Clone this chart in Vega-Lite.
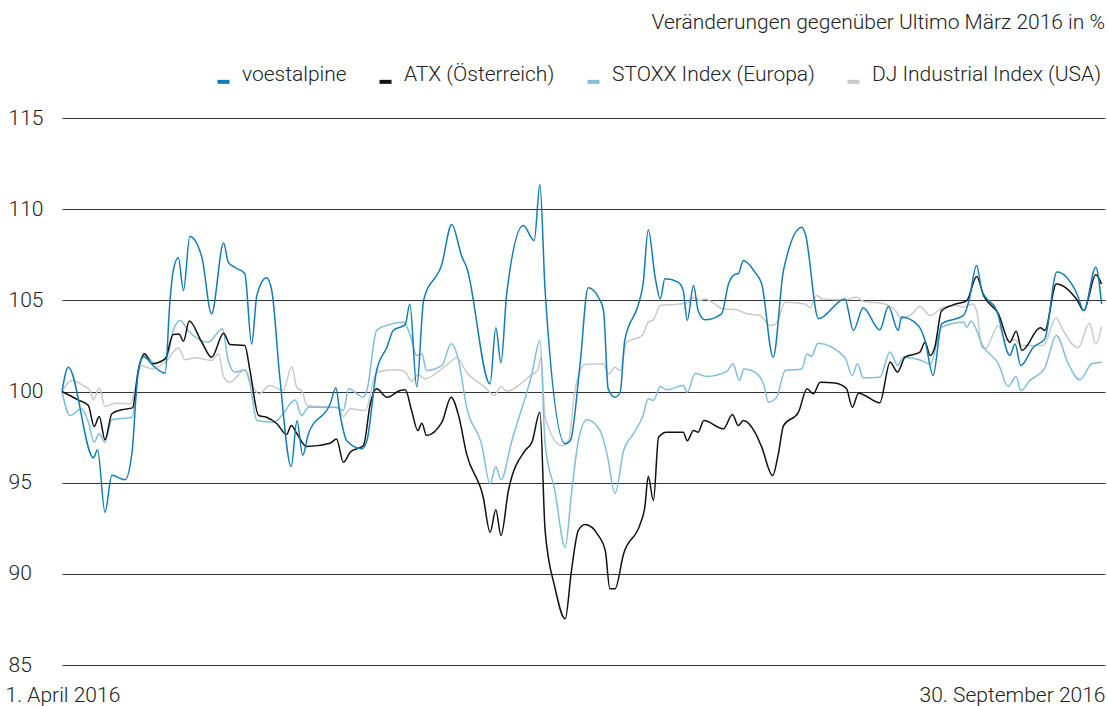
{
  "$schema": "https://vega.github.io/schema/vega-lite/v6.json",
  "width": 1043,
  "height": 547,
  "autosize": {"type": "none"},
  "padding": {"left": 62, "top": 118, "right": 3, "bottom": 41},
  "background": "white",
  "title": {"text": "Veränderungen gegenüber Ultimo März 2016 in %", "anchor": "end", "frame": "group", "offset": 31, "fontSize": 21, "font": "Roboto", "fontWeight": 300, "color": "#222"},
  "config": {"view": {"stroke": null}, "font": "Roboto"},
  "datasets": {
    "kurse": [
      {"reihe": "DJ Industrial Index (USA)", "tag": 0, "wert": 100.0},
      {"reihe": "DJ Industrial Index (USA)", "tag": 1.7, "wert": 100.6},
      {"reihe": "DJ Industrial Index (USA)", "tag": 4.0, "wert": 100.27},
      {"reihe": "DJ Industrial Index (USA)", "tag": 4.9, "wert": 100.05},
      {"reihe": "DJ Industrial Index (USA)", "tag": 5.5, "wert": 99.54},
      {"reihe": "DJ Industrial Index (USA)", "tag": 6.5, "wert": 100.2},
      {"reihe": "DJ Industrial Index (USA)", "tag": 7.5, "wert": 99.18},
      {"reihe": "DJ Industrial Index (USA)", "tag": 9.3, "wert": 99.36},
      {"reihe": "DJ Industrial Index (USA)", "tag": 11.9, "wert": 99.33},
      {"reihe": "DJ Industrial Index (USA)", "tag": 12.7, "wert": 100.05},
      {"reihe": "DJ Industrial Index (USA)", "tag": 13.8, "wert": 101.43},
      {"reihe": "DJ Industrial Index (USA)", "tag": 15.7, "wert": 101.24},
      {"reihe": "DJ Industrial Index (USA)", "tag": 18.3, "wert": 101.7},
      {"reihe": "DJ Industrial Index (USA)", "tag": 20.3, "wert": 102.4},
      {"reihe": "DJ Industrial Index (USA)", "tag": 21.5, "wert": 101.74},
      {"reihe": "DJ Industrial Index (USA)", "tag": 23.2, "wert": 101.85},
      {"reihe": "DJ Industrial Index (USA)", "tag": 26.1, "wert": 101.7},
      {"reihe": "DJ Industrial Index (USA)", "tag": 27.3, "wert": 102.07},
      {"reihe": "DJ Industrial Index (USA)", "tag": 28.2, "wert": 100.82},
      {"reihe": "DJ Industrial Index (USA)", "tag": 29.3, "wert": 100.51},
      {"reihe": "DJ Industrial Index (USA)", "tag": 31.9, "wert": 101.19},
      {"reihe": "DJ Industrial Index (USA)", "tag": 33.1, "wert": 100.42},
      {"reihe": "DJ Industrial Index (USA)", "tag": 34.3, "wert": 99.87},
      {"reihe": "DJ Industrial Index (USA)", "tag": 36.3, "wert": 100.33},
      {"reihe": "DJ Industrial Index (USA)", "tag": 38.6, "wert": 100.05},
      {"reihe": "DJ Industrial Index (USA)", "tag": 40.1, "wert": 101.37},
      {"reihe": "DJ Industrial Index (USA)", "tag": 41.0, "wert": 100.2},
      {"reihe": "DJ Industrial Index (USA)", "tag": 41.8, "wert": 100.05},
      {"reihe": "DJ Industrial Index (USA)", "tag": 42.8, "wert": 99.23},
      {"reihe": "DJ Industrial Index (USA)", "tag": 48.2, "wert": 99.1},
      {"reihe": "DJ Industrial Index (USA)", "tag": 49.1, "wert": 98.63},
      {"reihe": "DJ Industrial Index (USA)", "tag": 50.3, "wert": 99.05},
      {"reihe": "DJ Industrial Index (USA)", "tag": 52.9, "wert": 98.96},
      {"reihe": "DJ Industrial Index (USA)", "tag": 54.9, "wert": 101.06},
      {"reihe": "DJ Industrial Index (USA)", "tag": 58.4, "wert": 101.19},
      {"reihe": "DJ Industrial Index (USA)", "tag": 59.9, "wert": 101.06},
      {"reihe": "DJ Industrial Index (USA)", "tag": 61.0, "wert": 100.56},
      {"reihe": "DJ Industrial Index (USA)", "tag": 62.2, "wert": 100.93},
      {"reihe": "DJ Industrial Index (USA)", "tag": 63.3, "wert": 100.7},
      {"reihe": "DJ Industrial Index (USA)", "tag": 67.4, "wert": 101.52},
      {"reihe": "DJ Industrial Index (USA)", "tag": 68.9, "wert": 101.85},
      {"reihe": "DJ Industrial Index (USA)", "tag": 70.6, "wert": 101.06},
      {"reihe": "DJ Industrial Index (USA)", "tag": 73.8, "wert": 100.24},
      {"reihe": "DJ Industrial Index (USA)", "tag": 75.4, "wert": 99.78},
      {"reihe": "DJ Industrial Index (USA)", "tag": 76.6, "wert": 100.27},
      {"reihe": "DJ Industrial Index (USA)", "tag": 77.6, "wert": 100.02},
      {"reihe": "DJ Industrial Index (USA)", "tag": 82.0, "wert": 100.93},
      {"reihe": "DJ Industrial Index (USA)", "tag": 83.0, "wert": 101.15},
      {"reihe": "DJ Industrial Index (USA)", "tag": 83.6, "wert": 101.88},
      {"reihe": "DJ Industrial Index (USA)", "tag": 84.3, "wert": 98.59},
      {"reihe": "DJ Industrial Index (USA)", "tag": 87.2, "wert": 97.04},
      {"reihe": "DJ Industrial Index (USA)", "tag": 88.4, "wert": 97.3},
      {"reihe": "DJ Industrial Index (USA)", "tag": 89.5, "wert": 100.05},
      {"reihe": "DJ Industrial Index (USA)", "tag": 91.3, "wert": 101.48},
      {"reihe": "DJ Industrial Index (USA)", "tag": 94.5, "wert": 101.52},
      {"reihe": "DJ Industrial Index (USA)", "tag": 95.3, "wert": 100.93},
      {"reihe": "DJ Industrial Index (USA)", "tag": 96.5, "wert": 101.33},
      {"reihe": "DJ Industrial Index (USA)", "tag": 97.4, "wert": 101.15},
      {"reihe": "DJ Industrial Index (USA)", "tag": 98.5, "wert": 102.7},
      {"reihe": "DJ Industrial Index (USA)", "tag": 101.2, "wert": 103.07},
      {"reihe": "DJ Industrial Index (USA)", "tag": 102.3, "wert": 103.8},
      {"reihe": "DJ Industrial Index (USA)", "tag": 103.2, "wert": 103.93},
      {"reihe": "DJ Industrial Index (USA)", "tag": 104.4, "wert": 104.72},
      {"reihe": "DJ Industrial Index (USA)", "tag": 107.8, "wert": 104.8},
      {"reihe": "DJ Industrial Index (USA)", "tag": 109.6, "wert": 104.9},
      {"reihe": "DJ Industrial Index (USA)", "tag": 110.2, "wert": 105.17},
      {"reihe": "DJ Industrial Index (USA)", "tag": 111.3, "wert": 104.99},
      {"reihe": "DJ Industrial Index (USA)", "tag": 112.2, "wert": 105.08},
      {"reihe": "DJ Industrial Index (USA)", "tag": 115.4, "wert": 104.53},
      {"reihe": "DJ Industrial Index (USA)", "tag": 117.7, "wert": 104.48},
      {"reihe": "DJ Industrial Index (USA)", "tag": 119.5, "wert": 104.26},
      {"reihe": "DJ Industrial Index (USA)", "tag": 121.8, "wert": 104.17},
      {"reihe": "DJ Industrial Index (USA)", "tag": 122.4, "wert": 103.99},
      {"reihe": "DJ Industrial Index (USA)", "tag": 123.6, "wert": 103.62},
      {"reihe": "DJ Industrial Index (USA)", "tag": 124.7, "wert": 103.75},
      {"reihe": "DJ Industrial Index (USA)", "tag": 126.2, "wert": 104.9},
      {"reihe": "DJ Industrial Index (USA)", "tag": 129.7, "wert": 104.8},
      {"reihe": "DJ Industrial Index (USA)", "tag": 130.5, "wert": 104.59},
      {"reihe": "DJ Industrial Index (USA)", "tag": 131.7, "wert": 105.27},
      {"reihe": "DJ Industrial Index (USA)", "tag": 132.6, "wert": 105.08},
      {"reihe": "DJ Industrial Index (USA)", "tag": 136.6, "wert": 105.03},
      {"reihe": "DJ Industrial Index (USA)", "tag": 138.7, "wert": 105.17},
      {"reihe": "DJ Industrial Index (USA)", "tag": 139.8, "wert": 104.95},
      {"reihe": "DJ Industrial Index (USA)", "tag": 143.6, "wert": 104.8},
      {"reihe": "DJ Industrial Index (USA)", "tag": 145.4, "wert": 104.44},
      {"reihe": "DJ Industrial Index (USA)", "tag": 146.5, "wert": 103.99},
      {"reihe": "DJ Industrial Index (USA)", "tag": 148.3, "wert": 104.26},
      {"reihe": "DJ Industrial Index (USA)", "tag": 149.7, "wert": 104.66},
      {"reihe": "DJ Industrial Index (USA)", "tag": 151.5, "wert": 104.17},
      {"reihe": "DJ Industrial Index (USA)", "tag": 153.8, "wert": 104.62},
      {"reihe": "DJ Industrial Index (USA)", "tag": 156.1, "wert": 104.72},
      {"reihe": "DJ Industrial Index (USA)", "tag": 157.3, "wert": 104.62},
      {"reihe": "DJ Industrial Index (USA)", "tag": 158.8, "wert": 104.8},
      {"reihe": "DJ Industrial Index (USA)", "tag": 159.6, "wert": 104.44},
      {"reihe": "DJ Industrial Index (USA)", "tag": 160.5, "wert": 102.43},
      {"reihe": "DJ Industrial Index (USA)", "tag": 161.1, "wert": 102.34},
      {"reihe": "DJ Industrial Index (USA)", "tag": 163.4, "wert": 103.62},
      {"reihe": "DJ Industrial Index (USA)", "tag": 164.6, "wert": 102.8},
      {"reihe": "DJ Industrial Index (USA)", "tag": 166.3, "wert": 102.84},
      {"reihe": "DJ Industrial Index (USA)", "tag": 167.3, "wert": 102.52},
      {"reihe": "DJ Industrial Index (USA)", "tag": 171.2, "wert": 102.52},
      {"reihe": "DJ Industrial Index (USA)", "tag": 173.5, "wert": 104.04},
      {"reihe": "DJ Industrial Index (USA)", "tag": 174.7, "wert": 103.35},
      {"reihe": "DJ Industrial Index (USA)", "tag": 177.3, "wert": 102.4},
      {"reihe": "DJ Industrial Index (USA)", "tag": 179.3, "wert": 103.75},
      {"reihe": "DJ Industrial Index (USA)", "tag": 180.4, "wert": 102.6},
      {"reihe": "DJ Industrial Index (USA)", "tag": 181.4, "wert": 103.57},

      {"reihe": "STOXX Index (Europa)", "tag": 0, "wert": 100.0},
      {"reihe": "STOXX Index (Europa)", "tag": 1.4, "wert": 98.68},
      {"reihe": "STOXX Index (Europa)", "tag": 3.4, "wert": 99.05},
      {"reihe": "STOXX Index (Europa)", "tag": 4.6, "wert": 98.32},
      {"reihe": "STOXX Index (Europa)", "tag": 5.6, "wert": 97.22},
      {"reihe": "STOXX Index (Europa)", "tag": 6.5, "wert": 97.68},
      {"reihe": "STOXX Index (Europa)", "tag": 7.5, "wert": 97.22},
      {"reihe": "STOXX Index (Europa)", "tag": 8.7, "wert": 98.45},
      {"reihe": "STOXX Index (Europa)", "tag": 12.2, "wert": 98.59},
      {"reihe": "STOXX Index (Europa)", "tag": 13.6, "wert": 101.52},
      {"reihe": "STOXX Index (Europa)", "tag": 14.5, "wert": 101.97},
      {"reihe": "STOXX Index (Europa)", "tag": 16.2, "wert": 101.55},
      {"reihe": "STOXX Index (Europa)", "tag": 18.3, "wert": 101.88},
      {"reihe": "STOXX Index (Europa)", "tag": 19.4, "wert": 103.35},
      {"reihe": "STOXX Index (Europa)", "tag": 20.6, "wert": 103.9},
      {"reihe": "STOXX Index (Europa)", "tag": 22.0, "wert": 103.35},
      {"reihe": "STOXX Index (Europa)", "tag": 25.5, "wert": 102.7},
      {"reihe": "STOXX Index (Europa)", "tag": 28.0, "wert": 103.44},
      {"reihe": "STOXX Index (Europa)", "tag": 29.0, "wert": 101.7},
      {"reihe": "STOXX Index (Europa)", "tag": 30.2, "wert": 101.06},
      {"reihe": "STOXX Index (Europa)", "tag": 31.9, "wert": 101.19},
      {"reihe": "STOXX Index (Europa)", "tag": 32.8, "wert": 100.42},
      {"reihe": "STOXX Index (Europa)", "tag": 34.0, "wert": 98.41},
      {"reihe": "STOXX Index (Europa)", "tag": 36.9, "wert": 98.32},
      {"reihe": "STOXX Index (Europa)", "tag": 38.6, "wert": 98.78},
      {"reihe": "STOXX Index (Europa)", "tag": 39.8, "wert": 99.33},
      {"reihe": "STOXX Index (Europa)", "tag": 40.7, "wert": 99.54},
      {"reihe": "STOXX Index (Europa)", "tag": 41.8, "wert": 98.68},
      {"reihe": "STOXX Index (Europa)", "tag": 43.0, "wert": 99.14},
      {"reihe": "STOXX Index (Europa)", "tag": 47.9, "wert": 99.14},
      {"reihe": "STOXX Index (Europa)", "tag": 49.1, "wert": 98.96},
      {"reihe": "STOXX Index (Europa)", "tag": 50.0, "wert": 100.15},
      {"reihe": "STOXX Index (Europa)", "tag": 52.6, "wert": 99.69},
      {"reihe": "STOXX Index (Europa)", "tag": 53.2, "wert": 100.05},
      {"reihe": "STOXX Index (Europa)", "tag": 54.9, "wert": 103.35},
      {"reihe": "STOXX Index (Europa)", "tag": 57.2, "wert": 103.68},
      {"reihe": "STOXX Index (Europa)", "tag": 59.6, "wert": 103.8},
      {"reihe": "STOXX Index (Europa)", "tag": 60.7, "wert": 103.16},
      {"reihe": "STOXX Index (Europa)", "tag": 61.9, "wert": 101.97},
      {"reihe": "STOXX Index (Europa)", "tag": 62.8, "wert": 102.07},
      {"reihe": "STOXX Index (Europa)", "tag": 63.6, "wert": 101.15},
      {"reihe": "STOXX Index (Europa)", "tag": 66.3, "wert": 101.43},
      {"reihe": "STOXX Index (Europa)", "tag": 67.9, "wert": 102.62},
      {"reihe": "STOXX Index (Europa)", "tag": 69.2, "wert": 101.7},
      {"reihe": "STOXX Index (Europa)", "tag": 70.6, "wert": 99.14},
      {"reihe": "STOXX Index (Europa)", "tag": 73.2, "wert": 97.13},
      {"reihe": "STOXX Index (Europa)", "tag": 74.7, "wert": 94.94},
      {"reihe": "STOXX Index (Europa)", "tag": 75.7, "wert": 95.89},
      {"reihe": "STOXX Index (Europa)", "tag": 76.6, "wert": 95.16},
      {"reihe": "STOXX Index (Europa)", "tag": 78.5, "wert": 97.3},
      {"reihe": "STOXX Index (Europa)", "tag": 82.0, "wert": 100.97},
      {"reihe": "STOXX Index (Europa)", "tag": 83.4, "wert": 102.8},
      {"reihe": "STOXX Index (Europa)", "tag": 84.3, "wert": 97.13},
      {"reihe": "STOXX Index (Europa)", "tag": 86.0, "wert": 94.57},
      {"reihe": "STOXX Index (Europa)", "tag": 87.8, "wert": 91.46},
      {"reihe": "STOXX Index (Europa)", "tag": 88.9, "wert": 94.39},
      {"reihe": "STOXX Index (Europa)", "tag": 90.1, "wert": 97.3},
      {"reihe": "STOXX Index (Europa)", "tag": 91.6, "wert": 98.45},
      {"reihe": "STOXX Index (Europa)", "tag": 93.9, "wert": 97.86},
      {"reihe": "STOXX Index (Europa)", "tag": 95.1, "wert": 96.58},
      {"reihe": "STOXX Index (Europa)", "tag": 96.5, "wert": 94.42},
      {"reihe": "STOXX Index (Europa)", "tag": 98.0, "wert": 96.76},
      {"reihe": "STOXX Index (Europa)", "tag": 99.7, "wert": 97.68},
      {"reihe": "STOXX Index (Europa)", "tag": 101.4, "wert": 98.68},
      {"reihe": "STOXX Index (Europa)", "tag": 102.3, "wert": 99.6},
      {"reihe": "STOXX Index (Europa)", "tag": 103.2, "wert": 99.51},
      {"reihe": "STOXX Index (Europa)", "tag": 104.4, "wert": 100.27},
      {"reihe": "STOXX Index (Europa)", "tag": 105.5, "wert": 100.09},
      {"reihe": "STOXX Index (Europa)", "tag": 108.4, "wert": 100.33},
      {"reihe": "STOXX Index (Europa)", "tag": 109.1, "wert": 99.96},
      {"reihe": "STOXX Index (Europa)", "tag": 110.5, "wert": 101.0},
      {"reihe": "STOXX Index (Europa)", "tag": 112.5, "wert": 100.82},
      {"reihe": "STOXX Index (Europa)", "tag": 116.0, "wert": 101.1},
      {"reihe": "STOXX Index (Europa)", "tag": 117.1, "wert": 101.52},
      {"reihe": "STOXX Index (Europa)", "tag": 118.2, "wert": 100.6},
      {"reihe": "STOXX Index (Europa)", "tag": 119.0, "wert": 101.24},
      {"reihe": "STOXX Index (Europa)", "tag": 120.9, "wert": 101.06},
      {"reihe": "STOXX Index (Europa)", "tag": 122.4, "wert": 100.42},
      {"reihe": "STOXX Index (Europa)", "tag": 123.3, "wert": 99.41},
      {"reihe": "STOXX Index (Europa)", "tag": 124.7, "wert": 99.69},
      {"reihe": "STOXX Index (Europa)", "tag": 126.2, "wert": 101.15},
      {"reihe": "STOXX Index (Europa)", "tag": 129.1, "wert": 101.24},
      {"reihe": "STOXX Index (Europa)", "tag": 130.0, "wert": 102.07},
      {"reihe": "STOXX Index (Europa)", "tag": 130.8, "wert": 101.92},
      {"reihe": "STOXX Index (Europa)", "tag": 131.9, "wert": 102.65},
      {"reihe": "STOXX Index (Europa)", "tag": 136.6, "wert": 101.88},
      {"reihe": "STOXX Index (Europa)", "tag": 137.9, "wert": 100.88},
      {"reihe": "STOXX Index (Europa)", "tag": 138.8, "wert": 101.52},
      {"reihe": "STOXX Index (Europa)", "tag": 139.8, "wert": 100.75},
      {"reihe": "STOXX Index (Europa)", "tag": 142.7, "wert": 100.78},
      {"reihe": "STOXX Index (Europa)", "tag": 144.5, "wert": 102.16},
      {"reihe": "STOXX Index (Europa)", "tag": 145.8, "wert": 101.43},
      {"reihe": "STOXX Index (Europa)", "tag": 146.8, "wert": 101.88},
      {"reihe": "STOXX Index (Europa)", "tag": 150.0, "wert": 101.7},
      {"reihe": "STOXX Index (Europa)", "tag": 151.5, "wert": 101.5},
      {"reihe": "STOXX Index (Europa)", "tag": 153.5, "wert": 103.53},
      {"reihe": "STOXX Index (Europa)", "tag": 157.3, "wert": 103.8},
      {"reihe": "STOXX Index (Europa)", "tag": 157.9, "wert": 103.53},
      {"reihe": "STOXX Index (Europa)", "tag": 158.6, "wert": 103.86},
      {"reihe": "STOXX Index (Europa)", "tag": 160.8, "wert": 102.43},
      {"reihe": "STOXX Index (Europa)", "tag": 163.4, "wert": 101.52},
      {"reihe": "STOXX Index (Europa)", "tag": 165.1, "wert": 100.27},
      {"reihe": "STOXX Index (Europa)", "tag": 166.5, "wert": 100.82},
      {"reihe": "STOXX Index (Europa)", "tag": 167.3, "wert": 100.05},
      {"reihe": "STOXX Index (Europa)", "tag": 168.9, "wert": 100.6},
      {"reihe": "STOXX Index (Europa)", "tag": 171.5, "wert": 101.3},
      {"reihe": "STOXX Index (Europa)", "tag": 173.5, "wert": 103.07},
      {"reihe": "STOXX Index (Europa)", "tag": 175.6, "wert": 101.52},
      {"reihe": "STOXX Index (Europa)", "tag": 177.6, "wert": 100.64},
      {"reihe": "STOXX Index (Europa)", "tag": 179.7, "wert": 101.52},
      {"reihe": "STOXX Index (Europa)", "tag": 181.4, "wert": 101.61},

      {"reihe": "ATX (Österreich)", "tag": 0, "wert": 100.0},
      {"reihe": "ATX (Österreich)", "tag": 2.8, "wert": 99.54},
      {"reihe": "ATX (Österreich)", "tag": 4.6, "wert": 99.23},
      {"reihe": "ATX (Österreich)", "tag": 5.6, "wert": 98.08},
      {"reihe": "ATX (Österreich)", "tag": 6.5, "wert": 98.63},
      {"reihe": "ATX (Österreich)", "tag": 7.5, "wert": 97.35},
      {"reihe": "ATX (Österreich)", "tag": 8.7, "wert": 98.78},
      {"reihe": "ATX (Österreich)", "tag": 10.4, "wert": 99.0},
      {"reihe": "ATX (Österreich)", "tag": 12.3, "wert": 99.1},
      {"reihe": "ATX (Österreich)", "tag": 13.3, "wert": 101.15},
      {"reihe": "ATX (Österreich)", "tag": 14.4, "wert": 102.07},
      {"reihe": "ATX (Österreich)", "tag": 15.7, "wert": 101.52},
      {"reihe": "ATX (Österreich)", "tag": 18.0, "wert": 101.79},
      {"reihe": "ATX (Österreich)", "tag": 19.4, "wert": 103.13},
      {"reihe": "ATX (Österreich)", "tag": 20.4, "wert": 103.16},
      {"reihe": "ATX (Österreich)", "tag": 21.2, "wert": 102.76},
      {"reihe": "ATX (Österreich)", "tag": 22.2, "wert": 103.86},
      {"reihe": "ATX (Österreich)", "tag": 24.4, "wert": 102.7},
      {"reihe": "ATX (Österreich)", "tag": 26.1, "wert": 101.88},
      {"reihe": "ATX (Österreich)", "tag": 28.2, "wert": 103.2},
      {"reihe": "ATX (Österreich)", "tag": 29.3, "wert": 102.58},
      {"reihe": "ATX (Österreich)", "tag": 31.9, "wert": 102.52},
      {"reihe": "ATX (Österreich)", "tag": 32.8, "wert": 101.15},
      {"reihe": "ATX (Österreich)", "tag": 34.3, "wert": 98.68},
      {"reihe": "ATX (Österreich)", "tag": 35.7, "wert": 98.59},
      {"reihe": "ATX (Österreich)", "tag": 37.5, "wert": 98.23},
      {"reihe": "ATX (Österreich)", "tag": 39.2, "wert": 97.64},
      {"reihe": "ATX (Österreich)", "tag": 40.0, "wert": 98.13},
      {"reihe": "ATX (Österreich)", "tag": 41.0, "wert": 97.68},
      {"reihe": "ATX (Österreich)", "tag": 42.7, "wert": 96.98},
      {"reihe": "ATX (Österreich)", "tag": 46.8, "wert": 97.16},
      {"reihe": "ATX (Österreich)", "tag": 47.9, "wert": 97.4},
      {"reihe": "ATX (Österreich)", "tag": 49.1, "wert": 96.12},
      {"reihe": "ATX (Österreich)", "tag": 50.3, "wert": 96.67},
      {"reihe": "ATX (Österreich)", "tag": 52.6, "wert": 97.04},
      {"reihe": "ATX (Österreich)", "tag": 53.8, "wert": 99.33},
      {"reihe": "ATX (Österreich)", "tag": 54.9, "wert": 100.15},
      {"reihe": "ATX (Österreich)", "tag": 56.7, "wert": 99.69},
      {"reihe": "ATX (Österreich)", "tag": 59.0, "wert": 100.05},
      {"reihe": "ATX (Österreich)", "tag": 59.9, "wert": 100.09},
      {"reihe": "ATX (Österreich)", "tag": 61.0, "wert": 98.96},
      {"reihe": "ATX (Österreich)", "tag": 62.1, "wert": 97.86},
      {"reihe": "ATX (Österreich)", "tag": 62.8, "wert": 98.26},
      {"reihe": "ATX (Österreich)", "tag": 63.6, "wert": 97.59},
      {"reihe": "ATX (Österreich)", "tag": 66.3, "wert": 98.32},
      {"reihe": "ATX (Österreich)", "tag": 67.9, "wert": 99.69},
      {"reihe": "ATX (Österreich)", "tag": 69.2, "wert": 98.68},
      {"reihe": "ATX (Österreich)", "tag": 70.6, "wert": 96.58},
      {"reihe": "ATX (Österreich)", "tag": 73.5, "wert": 94.2},
      {"reihe": "ATX (Österreich)", "tag": 74.7, "wert": 92.28},
      {"reihe": "ATX (Österreich)", "tag": 75.7, "wert": 93.51},
      {"reihe": "ATX (Österreich)", "tag": 76.6, "wert": 92.1},
      {"reihe": "ATX (Österreich)", "tag": 77.9, "wert": 94.57},
      {"reihe": "ATX (Österreich)", "tag": 80.8, "wert": 96.76},
      {"reihe": "ATX (Österreich)", "tag": 82.0, "wert": 97.22},
      {"reihe": "ATX (Österreich)", "tag": 83.4, "wert": 98.86},
      {"reihe": "ATX (Österreich)", "tag": 84.3, "wert": 92.38},
      {"reihe": "ATX (Österreich)", "tag": 86.0, "wert": 89.27},
      {"reihe": "ATX (Österreich)", "tag": 87.8, "wert": 87.53},
      {"reihe": "ATX (Österreich)", "tag": 88.9, "wert": 90.18},
      {"reihe": "ATX (Österreich)", "tag": 90.1, "wert": 92.38},
      {"reihe": "ATX (Österreich)", "tag": 91.3, "wert": 92.7},
      {"reihe": "ATX (Österreich)", "tag": 93.6, "wert": 92.1},
      {"reihe": "ATX (Österreich)", "tag": 94.8, "wert": 91.28},
      {"reihe": "ATX (Österreich)", "tag": 95.6, "wert": 89.18},
      {"reihe": "ATX (Österreich)", "tag": 96.5, "wert": 89.18},
      {"reihe": "ATX (Österreich)", "tag": 98.0, "wert": 91.1},
      {"reihe": "ATX (Österreich)", "tag": 100.9, "wert": 92.74},
      {"reihe": "ATX (Österreich)", "tag": 101.7, "wert": 93.65},
      {"reihe": "ATX (Österreich)", "tag": 102.3, "wert": 95.34},
      {"reihe": "ATX (Österreich)", "tag": 103.2, "wert": 94.02},
      {"reihe": "ATX (Österreich)", "tag": 104.1, "wert": 97.49},
      {"reihe": "ATX (Österreich)", "tag": 105.5, "wert": 97.77},
      {"reihe": "ATX (Österreich)", "tag": 108.4, "wert": 97.77},
      {"reihe": "ATX (Österreich)", "tag": 109.1, "wert": 97.3},
      {"reihe": "ATX (Österreich)", "tag": 110.2, "wert": 97.86},
      {"reihe": "ATX (Österreich)", "tag": 111.0, "wert": 97.77},
      {"reihe": "ATX (Österreich)", "tag": 112.0, "wert": 98.41},
      {"reihe": "ATX (Österreich)", "tag": 115.4, "wert": 97.95},
      {"reihe": "ATX (Österreich)", "tag": 117.0, "wert": 98.74},
      {"reihe": "ATX (Österreich)", "tag": 118.0, "wert": 98.13},
      {"reihe": "ATX (Österreich)", "tag": 118.9, "wert": 98.41},
      {"reihe": "ATX (Österreich)", "tag": 120.9, "wert": 97.77},
      {"reihe": "ATX (Österreich)", "tag": 122.1, "wert": 96.95},
      {"reihe": "ATX (Österreich)", "tag": 124.0, "wert": 95.39},
      {"reihe": "ATX (Österreich)", "tag": 125.0, "wert": 96.58},
      {"reihe": "ATX (Österreich)", "tag": 125.9, "wert": 98.13},
      {"reihe": "ATX (Österreich)", "tag": 128.5, "wert": 98.86},
      {"reihe": "ATX (Österreich)", "tag": 130.0, "wert": 100.15},
      {"reihe": "ATX (Österreich)", "tag": 131.1, "wert": 99.87},
      {"reihe": "ATX (Österreich)", "tag": 132.3, "wert": 100.51},
      {"reihe": "ATX (Österreich)", "tag": 134.9, "wert": 100.46},
      {"reihe": "ATX (Österreich)", "tag": 136.9, "wert": 100.15},
      {"reihe": "ATX (Österreich)", "tag": 137.9, "wert": 99.14},
      {"reihe": "ATX (Österreich)", "tag": 139.0, "wert": 99.91},
      {"reihe": "ATX (Österreich)", "tag": 142.7, "wert": 99.38},
      {"reihe": "ATX (Österreich)", "tag": 144.5, "wert": 101.61},
      {"reihe": "ATX (Österreich)", "tag": 145.8, "wert": 101.06},
      {"reihe": "ATX (Österreich)", "tag": 147.1, "wert": 101.88},
      {"reihe": "ATX (Österreich)", "tag": 149.7, "wert": 102.16},
      {"reihe": "ATX (Österreich)", "tag": 150.6, "wert": 102.7},
      {"reihe": "ATX (Österreich)", "tag": 151.5, "wert": 101.97},
      {"reihe": "ATX (Österreich)", "tag": 152.3, "wert": 102.43},
      {"reihe": "ATX (Österreich)", "tag": 153.5, "wert": 104.44},
      {"reihe": "ATX (Österreich)", "tag": 155.5, "wert": 104.75},
      {"reihe": "ATX (Österreich)", "tag": 157.9, "wert": 104.99},
      {"reihe": "ATX (Österreich)", "tag": 159.6, "wert": 106.31},
      {"reihe": "ATX (Österreich)", "tag": 160.8, "wert": 105.27},
      {"reihe": "ATX (Österreich)", "tag": 163.4, "wert": 104.26},
      {"reihe": "ATX (Österreich)", "tag": 165.4, "wert": 102.7},
      {"reihe": "ATX (Österreich)", "tag": 166.5, "wert": 103.31},
      {"reihe": "ATX (Österreich)", "tag": 167.5, "wert": 102.25},
      {"reihe": "ATX (Österreich)", "tag": 170.7, "wert": 103.49},
      {"reihe": "ATX (Österreich)", "tag": 171.5, "wert": 103.35},
      {"reihe": "ATX (Österreich)", "tag": 173.5, "wert": 105.9},
      {"reihe": "ATX (Österreich)", "tag": 177.1, "wert": 105.03},
      {"reihe": "ATX (Österreich)", "tag": 178.3, "wert": 104.44},
      {"reihe": "ATX (Österreich)", "tag": 180.4, "wert": 106.4},
      {"reihe": "ATX (Österreich)", "tag": 181.4, "wert": 105.9},

      {"reihe": "voestalpine", "tag": 0, "wert": 100.0},
      {"reihe": "voestalpine", "tag": 1.1, "wert": 101.33},
      {"reihe": "voestalpine", "tag": 5.5, "wert": 96.36},
      {"reihe": "voestalpine", "tag": 6.2, "wert": 96.8},
      {"reihe": "voestalpine", "tag": 7.5, "wert": 93.38},
      {"reihe": "voestalpine", "tag": 8.7, "wert": 95.4},
      {"reihe": "voestalpine", "tag": 11.0, "wert": 95.16},
      {"reihe": "voestalpine", "tag": 12.2, "wert": 96.6},
      {"reihe": "voestalpine", "tag": 13.3, "wert": 101.15},
      {"reihe": "voestalpine", "tag": 14.2, "wert": 101.9},
      {"reihe": "voestalpine", "tag": 16.2, "wert": 101.33},
      {"reihe": "voestalpine", "tag": 18.0, "wert": 101.0},
      {"reihe": "voestalpine", "tag": 18.8, "wert": 104.8},
      {"reihe": "voestalpine", "tag": 19.4, "wert": 106.6},
      {"reihe": "voestalpine", "tag": 20.3, "wert": 107.33},
      {"reihe": "voestalpine", "tag": 21.2, "wert": 105.54},
      {"reihe": "voestalpine", "tag": 22.3, "wert": 108.5},
      {"reihe": "voestalpine", "tag": 24.4, "wert": 107.37},
      {"reihe": "voestalpine", "tag": 26.1, "wert": 104.26},
      {"reihe": "voestalpine", "tag": 28.2, "wert": 108.14},
      {"reihe": "voestalpine", "tag": 29.0, "wert": 107.1},
      {"reihe": "voestalpine", "tag": 30.2, "wert": 106.8},
      {"reihe": "voestalpine", "tag": 31.9, "wert": 106.46},
      {"reihe": "voestalpine", "tag": 33.1, "wert": 102.6},
      {"reihe": "voestalpine", "tag": 34.0, "wert": 105.27},
      {"reihe": "voestalpine", "tag": 35.7, "wert": 106.24},
      {"reihe": "voestalpine", "tag": 36.6, "wert": 105.54},
      {"reihe": "voestalpine", "tag": 38.0, "wert": 100.8},
      {"reihe": "voestalpine", "tag": 40.0, "wert": 95.89},
      {"reihe": "voestalpine", "tag": 41.0, "wert": 98.4},
      {"reihe": "voestalpine", "tag": 42.0, "wert": 96.5},
      {"reihe": "voestalpine", "tag": 43.0, "wert": 97.68},
      {"reihe": "voestalpine", "tag": 46.8, "wert": 99.33},
      {"reihe": "voestalpine", "tag": 47.8, "wert": 100.2},
      {"reihe": "voestalpine", "tag": 48.5, "wert": 98.78},
      {"reihe": "voestalpine", "tag": 49.7, "wert": 97.3},
      {"reihe": "voestalpine", "tag": 52.3, "wert": 96.86},
      {"reihe": "voestalpine", "tag": 53.2, "wert": 97.3},
      {"reihe": "voestalpine", "tag": 54.9, "wert": 101.15},
      {"reihe": "voestalpine", "tag": 56.7, "wert": 102.43},
      {"reihe": "voestalpine", "tag": 57.8, "wert": 103.35},
      {"reihe": "voestalpine", "tag": 59.9, "wert": 103.68},
      {"reihe": "voestalpine", "tag": 60.7, "wert": 104.8},
      {"reihe": "voestalpine", "tag": 61.9, "wert": 100.24},
      {"reihe": "voestalpine", "tag": 63.1, "wert": 105.0},
      {"reihe": "voestalpine", "tag": 66.3, "wert": 107.0},
      {"reihe": "voestalpine", "tag": 68.0, "wert": 109.16},
      {"reihe": "voestalpine", "tag": 69.8, "wert": 107.37},
      {"reihe": "voestalpine", "tag": 70.6, "wert": 106.82},
      {"reihe": "voestalpine", "tag": 74.7, "wert": 100.42},
      {"reihe": "voestalpine", "tag": 75.7, "wert": 103.5},
      {"reihe": "voestalpine", "tag": 76.6, "wert": 101.57},
      {"reihe": "voestalpine", "tag": 77.6, "wert": 105.36},
      {"reihe": "voestalpine", "tag": 80.5, "wert": 109.1},
      {"reihe": "voestalpine", "tag": 82.4, "wert": 108.28},
      {"reihe": "voestalpine", "tag": 83.4, "wert": 111.35},
      {"reihe": "voestalpine", "tag": 84.3, "wert": 105.54},
      {"reihe": "voestalpine", "tag": 87.8, "wert": 97.13},
      {"reihe": "voestalpine", "tag": 88.7, "wert": 97.3},
      {"reihe": "voestalpine", "tag": 90.4, "wert": 101.5},
      {"reihe": "voestalpine", "tag": 91.8, "wert": 105.69},
      {"reihe": "voestalpine", "tag": 93.6, "wert": 105.17},
      {"reihe": "voestalpine", "tag": 94.5, "wert": 104.44},
      {"reihe": "voestalpine", "tag": 95.3, "wert": 100.15},
      {"reihe": "voestalpine", "tag": 96.5, "wert": 99.69},
      {"reihe": "voestalpine", "tag": 97.4, "wert": 99.96},
      {"reihe": "voestalpine", "tag": 98.2, "wert": 102.8},
      {"reihe": "voestalpine", "tag": 100.6, "wert": 104.8},
      {"reihe": "voestalpine", "tag": 101.4, "wert": 105.9},
      {"reihe": "voestalpine", "tag": 102.3, "wert": 108.87},
      {"reihe": "voestalpine", "tag": 103.5, "wert": 106.27},
      {"reihe": "voestalpine", "tag": 104.4, "wert": 105.08},
      {"reihe": "voestalpine", "tag": 105.2, "wert": 106.18},
      {"reihe": "voestalpine", "tag": 107.5, "wert": 106.0},
      {"reihe": "voestalpine", "tag": 108.4, "wert": 105.54},
      {"reihe": "voestalpine", "tag": 109.1, "wert": 103.9},
      {"reihe": "voestalpine", "tag": 110.2, "wert": 105.81},
      {"reihe": "voestalpine", "tag": 111.0, "wert": 104.44},
      {"reihe": "voestalpine", "tag": 112.2, "wert": 103.93},
      {"reihe": "voestalpine", "tag": 115.1, "wert": 104.26},
      {"reihe": "voestalpine", "tag": 116.3, "wert": 105.9},
      {"reihe": "voestalpine", "tag": 117.4, "wert": 106.42},
      {"reihe": "voestalpine", "tag": 118.0, "wert": 106.46},
      {"reihe": "voestalpine", "tag": 118.9, "wert": 107.19},
      {"reihe": "voestalpine", "tag": 120.9, "wert": 106.55},
      {"reihe": "voestalpine", "tag": 122.1, "wert": 105.9},
      {"reihe": "voestalpine", "tag": 124.1, "wert": 101.88},
      {"reihe": "voestalpine", "tag": 125.9, "wert": 106.64},
      {"reihe": "voestalpine", "tag": 129.1, "wert": 109.01},
      {"reihe": "voestalpine", "tag": 129.7, "wert": 108.65},
      {"reihe": "voestalpine", "tag": 132.0, "wert": 103.99},
      {"reihe": "voestalpine", "tag": 136.6, "wert": 105.08},
      {"reihe": "voestalpine", "tag": 138.1, "wert": 103.35},
      {"reihe": "voestalpine", "tag": 139.8, "wert": 104.59},
      {"reihe": "voestalpine", "tag": 142.7, "wert": 103.38},
      {"reihe": "voestalpine", "tag": 144.2, "wert": 104.66},
      {"reihe": "voestalpine", "tag": 145.9, "wert": 103.35},
      {"reihe": "voestalpine", "tag": 146.5, "wert": 104.08},
      {"reihe": "voestalpine", "tag": 149.4, "wert": 103.62},
      {"reihe": "voestalpine", "tag": 150.6, "wert": 102.8},
      {"reihe": "voestalpine", "tag": 152.0, "wert": 100.88},
      {"reihe": "voestalpine", "tag": 153.5, "wert": 103.71},
      {"reihe": "voestalpine", "tag": 157.3, "wert": 104.17},
      {"reihe": "voestalpine", "tag": 158.2, "wert": 104.9},
      {"reihe": "voestalpine", "tag": 159.6, "wert": 106.91},
      {"reihe": "voestalpine", "tag": 160.5, "wert": 105.54},
      {"reihe": "voestalpine", "tag": 163.1, "wert": 104.44},
      {"reihe": "voestalpine", "tag": 165.4, "wert": 101.97},
      {"reihe": "voestalpine", "tag": 166.3, "wert": 102.6},
      {"reihe": "voestalpine", "tag": 167.3, "wert": 101.43},
      {"reihe": "voestalpine", "tag": 169.5, "wert": 102.43},
      {"reihe": "voestalpine", "tag": 171.5, "wert": 102.89},
      {"reihe": "voestalpine", "tag": 173.6, "wert": 106.55},
      {"reihe": "voestalpine", "tag": 177.1, "wert": 105.36},
      {"reihe": "voestalpine", "tag": 178.3, "wert": 104.44},
      {"reihe": "voestalpine", "tag": 180.4, "wert": 106.82},
      {"reihe": "voestalpine", "tag": 181.4, "wert": 104.8}
    ]
  },
  "data": {"name": "kurse"},
  "mark": {"type": "line", "interpolate": "monotone", "strokeWidth": 1.5},
  "encoding": {
    "x": {
      "field": "tag", "type": "quantitative",
      "scale": {"domain": [0, 182], "nice": false, "zero": false},
      "axis": {
        "values": [0, 182],
        "labelExpr": "datum.value == 0 ? '1. April 2016' : '30. September 2016'",
        "labelAlign": {"condition": {"test": "datum.value == 0", "value": "left"}, "value": "right"},
        "labelOffset": {"condition": {"test": "datum.value == 0", "value": -57}, "value": 0},
        "labelFlush": false,
        "labelOverlap": false,
        "labelLimit": 400,
        "domain": false, "ticks": false, "tickSize": 0, "grid": false, "title": null,
        "labelFont": "Roboto", "labelFontWeight": 300, "labelFontSize": 21, "labelColor": "#222",
        "labelPadding": 19, "labelBaseline": "top"
      }
    },
    "y": {
      "field": "wert", "type": "quantitative",
      "scale": {"domain": [85, 115], "nice": false, "zero": false},
      "axis": {
        "values": [85, 90, 95, 100, 105, 110, 115],
        "domain": false, "ticks": false, "tickSize": 0,
        "grid": true, "gridColor": "#333", "gridWidth": 1,
        "labelAlign": "left", "labelPadding": 54,
        "labelFont": "Roboto", "labelFontWeight": 300, "labelFontSize": 21, "labelColor": "#222",
        "title": null
      }
    },
    "color": {
      "field": "reihe", "type": "nominal",
      "scale": {
        "domain": ["voestalpine", "ATX (Österreich)", "STOXX Index (Europa)", "DJ Industrial Index (USA)"],
        "range": ["#127db4", "#111111", "#80bedb", "#c9c9c9"]
      },
      "legend": {
        "orient": "none", "legendX": 151, "legendY": -54, "direction": "horizontal",
        "title": null,
        "symbolType": "M-1,1.2H1", "symbolSize": 144, "symbolStrokeWidth": 4,
        "labelFont": "Roboto", "labelFontWeight": 300, "labelFontSize": 21, "labelColor": "#222",
        "labelLimit": 400,
        "columnPadding": 24, "labelOffset": 8
      }
    }
  }
}
